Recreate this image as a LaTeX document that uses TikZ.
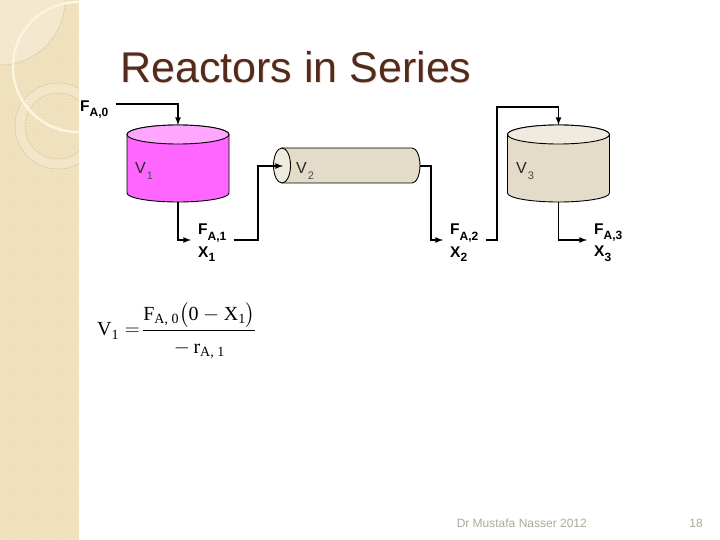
\documentclass[tikz,border=0pt]{standalone}
\usepackage{amsmath}
\usepackage{fontspec}
\setmainfont{Liberation Sans}
\newfontfamily\timesface{Liberation Serif}
\usetikzlibrary{patterns}

\definecolor{bandbase}{HTML}{EFDFBA}
\definecolor{bandlight}{HTML}{F3E7CC}
\definecolor{bandring}{HTML}{F2E5C6}
\definecolor{bandline}{HTML}{D8C8A0}
\definecolor{bandarc}{HTML}{FBF4DF}
\definecolor{titlebrown}{HTML}{522B1C}
\definecolor{titleshade}{HTML}{F2E2D8}
\definecolor{pinkbody}{HTML}{FF66FF}
\definecolor{pinktop}{HTML}{FFA6FF}
\definecolor{sandbody}{HTML}{E4DCC8}
\definecolor{sandtop}{HTML}{F0EBDF}
\definecolor{footgray}{HTML}{ABA99B}

\tikzset{
  vessel/.style={draw=black, line width=0.9pt},
  pipe/.style={line width=1.6pt, line join=miter},
  feed/.style={pipe, -latex},
  flow/.style={anchor=west, align=left, inner xsep=7pt, inner ysep=0pt,
    font=\fontsize{15.5}{22}\selectfont},
  vname/.style={anchor=base west, inner sep=0pt, text=black!85, font=\fontsize{16}{16}\selectfont},
  headline/.style={anchor=base west, inner sep=0pt, font=\fontsize{43}{50}\selectfont},
  foot/.style={anchor=base east, inner sep=0pt, text=footgray, font=\fontsize{12}{12}\selectfont}
}

\newcommand{\flowsub}[1]{\raisebox{-5pt}{\fontsize{12}{12}\selectfont\bfseries #1}}
\newcommand{\vsub}[1]{\hspace{1pt}\raisebox{-6pt}{\fontsize{11}{11}\selectfont\color{black!70}#1}}
\newcommand{\rmtext}[1]{\text{\timesface #1}}

\begin{document}
\begin{tikzpicture}[x=1pt, y=-1pt]
\useasboundingbox (0,0) rectangle (720,540);

% side band
\begin{scope}
\clip (0,0) rectangle (79,540);
\fill[bandbase] (0,0) rectangle (79,540);
\fill[bandlight, draw=bandline, line width=0.5pt] (0,0) circle (65pt);
\fill[bandring, even odd rule] (58,126) circle (43pt) (58,126) circle (33pt);
\draw[bandline, line width=0.5pt] (58,126) circle (43pt) (58,126) circle (33pt);
\draw[bandarc, line width=2.5pt] (78,67) circle (65pt);
\fill[pattern=crosshatch dots, pattern color=white, opacity=0.35] (0,0) rectangle (79,540);
\end{scope}

% title
\node[headline, text=titleshade] (titleback) at (121,84) {Reactors in Series};
\node[headline, text=titlebrown] (title) at (120,83) {Reactors in Series};

% first vessel
\draw[vessel, fill=pinkbody] (127,134.5) -- (127,193) arc[start angle=180, end angle=360, x radius=51pt, y radius=9pt]
  -- (229,134.5) arc[start angle=0, end angle=180, x radius=51pt, y radius=9.5pt] -- cycle;
\draw[vessel, fill=pinktop] (178,134.5) ellipse [x radius=51pt, y radius=9.5pt];
\coordinate (v1top) at (178,125);
\coordinate (v1bot) at (178,202);

% tube
\draw[vessel, fill=sandbody] (282,148) -- (412,148) arc[start angle=90, end angle=-90, x radius=8pt, y radius=17.5pt]
  -- (282,183) -- cycle;
\draw[vessel, fill=sandtop] (282,165.5) ellipse [x radius=8.5pt, y radius=17.5pt];
\coordinate (tubein) at (283,166);
\coordinate (tubeend) at (420,166);
\coordinate (tubeout) at (431,166);

% last vessel
\draw[vessel, fill=sandbody] (507.5,134.5) -- (507.5,193) arc[start angle=180, end angle=360, x radius=51pt, y radius=9pt]
  -- (609.5,134.5) arc[start angle=0, end angle=180, x radius=51pt, y radius=9.5pt] -- cycle;
\draw[vessel, fill=sandtop] (558.5,134.5) ellipse [x radius=51pt, y radius=9.5pt];
\coordinate (v3top) at (558.5,125);
\coordinate (v3bot) at (558.5,202);

% names of the vessels
\node[vname] (v1name) at (135,174) {V\vsub{1}};
\node[vname] (v2name) at (296,174) {V\vsub{2}};
\node[vname] (v3name) at (516,174) {V\vsub{3}};

% streams
\node[flow] (fa0) at (73,104) {\rule{0pt}{21pt}\textbf{F}\flowsub{A,0}};
\node[flow] (fa1) at (191,240) {\rule{0pt}{17pt}\textbf{F}\flowsub{A,1}\\\textbf{X}\flowsub{1}};
\node[flow] (fa2) at (443,240) {\rule{0pt}{17pt}\textbf{F}\flowsub{A,2}\\\textbf{X}\flowsub{2}};
\node[flow] (fa3) at (587,240) {\rule{0pt}{17pt}\textbf{F}\flowsub{A,3}\\\textbf{X}\flowsub{3}};

\coordinate (bendtwo) at (258,166);
\coordinate (bendthree) at (497,107);

\draw[feed] (fa0.east) -| (v1top);
\draw[feed] (v1bot) |- (fa1.west);
\draw[feed] (fa1.east) -| (bendtwo) -- (tubein);
\draw[feed] (tubeend) -- (tubeout) |- (fa2.west);
\draw[feed] (fa2.east) -| (bendthree) -| (v3top);
\draw[feed] (v3bot) |- (fa3.west);

% formula
\node[anchor=west, inner sep=0pt, font=\fontsize{20}{24}\selectfont] (formula) at (97,331)
  {$\rmtext{V}_{\rmtext{1}} =\! \dfrac{\rmtext{F}_{\rmtext{A, 0}}\bigl(\rmtext{0} - \rmtext{X}_{\rmtext{1}}\bigr)\rule[-7pt]{0pt}{0pt}}{-\,\rmtext{r}_{\rmtext{A, 1}}\rule{0pt}{20pt}}$};

% footer
\node[foot] (author) at (587,527) {Dr Mustafa Nasser 2012};
\node[foot] (page) at (703,527) {18};
\end{tikzpicture}
\end{document}
